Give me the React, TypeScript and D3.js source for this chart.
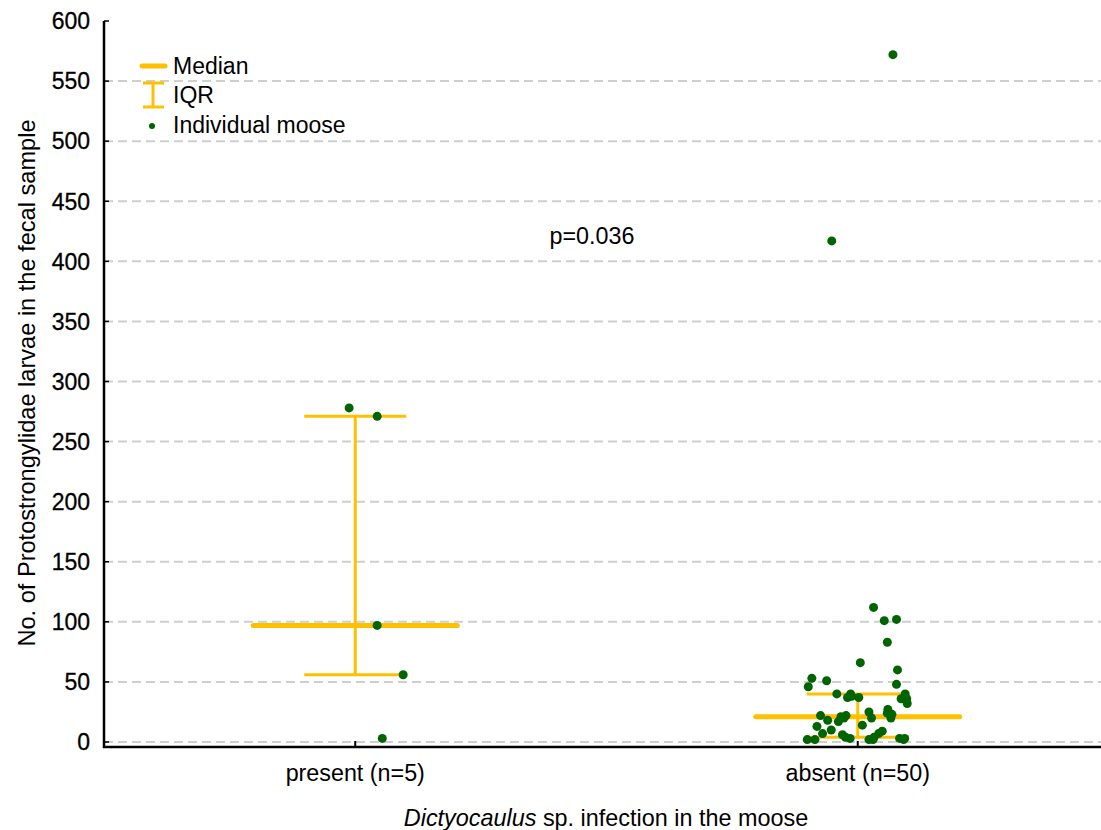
import React, { useRef, useEffect } from "react";
import * as d3 from "d3";

const W = 1101;
const H = 830;
const GOLD = "#ffc000";
const GREEN = "#006400";
const FONT = "'Liberation Sans', Arial, sans-serif";

const categories = ["present (n=5)", "absent (n=50)"];
const medians = [97, 21];
const q1 = [56, 4];
const q3 = [271, 40];
const yTicks = [0, 50, 100, 150, 200, 250, 300, 350, 400, 450, 500, 550, 600];

// individual moose: value + horizontal jitter (in cap half-widths)
const presentValues = [278, 271, 97, 56, 3];
const presentJitter = [-0.12, 0.43, 0.43, 0.94, 0.53];

const absentValues = [
  572, 417, 112, 101, 102, 83, 66, 60, 53, 51, 46, 48, 40, 40, 37, 37, 40, 36, 32,
  22, 25, 20, 27, 23, 20, 18, 17, 20, 22, 13, 10, 14, 7, 6, 9, 2, 2, 4, 3, 2, 4,
  7, 3, 3, 38, 2, 24, 2, 36, 21,
];
const absentJitter = [
  0.69, -0.51, 0.31, 0.52, 0.76, 0.58, 0.05, 0.78, -0.9, -0.61, -0.97, 0.76, -0.41,
  -0.14, -0.2, 0.02, 0.93, 0.96, 0.97, -0.73, 0.22, 0.27, 0.59, 0.67, 0.65, -0.59,
  -0.38, -0.27, -0.23, -0.8, -0.52, 0.09, -0.69, -0.3, 0.48, -0.99, -0.84, -0.24,
  -0.15, 0.22, 0.32, 0.41, 0.82, 0.92, -0.12, 0.3, 0.58, 0.9, 0.85, -0.33,
];

export default function App() {
  const svgRef = useRef<SVGSVGElement>(null);

  useEffect(() => {
    const svg = d3.select(svgRef.current);
    svg.selectAll("*").remove();

    const left = 104;
    const top = 21;
    const zeroY = 742;
    const axisY = 747;

    const x = d3.scaleBand().domain(categories).range([left, 1109]).padding(0);
    const cx = (c: string) => (x(c) as number) + x.bandwidth() / 2;
    const y = d3.scaleLinear().domain([0, 600]).range([zeroY, top]);
    const jit = d3.scaleLinear().domain([-1, 1]).range([-51, 51]);

    // grid
    svg
      .append("g")
      .selectAll("line")
      .data(yTicks.filter((t) => t < 600))
      .join("line")
      .attr("x1", left)
      .attr("x2", W)
      .attr("y1", (d) => y(d))
      .attr("y2", (d) => y(d))
      .attr("stroke", "#cfcfcf")
      .attr("stroke-width", 2)
      .attr("stroke-dasharray", "9,5");

    // y tick labels
    svg
      .append("g")
      .selectAll("text")
      .data(yTicks)
      .join("text")
      .attr("x", 90)
      .attr("y", (d) => y(d))
      .attr("dy", "0.36em")
      .attr("text-anchor", "end")
      .attr("font-size", 23)
      .attr("font-family", FONT)
      .attr("fill", "#000")
      .attr("stroke", "#000")
      .attr("stroke-width", 0.3)
      .text((d) => d);

    // y ticks (inward)
    svg
      .append("g")
      .selectAll("line")
      .data(yTicks)
      .join("line")
      .attr("x1", left)
      .attr("x2", left + 5)
      .attr("y1", (d) => y(d))
      .attr("y2", (d) => y(d))
      .attr("stroke", "#000")
      .attr("stroke-width", 1.5);

    // x ticks (inward)
    svg
      .append("g")
      .selectAll("line")
      .data(categories)
      .join("line")
      .attr("x1", (d) => cx(d))
      .attr("x2", (d) => cx(d))
      .attr("y1", axisY)
      .attr("y2", axisY - 6)
      .attr("stroke", "#000")
      .attr("stroke-width", 2);

    // axes
    svg
      .append("line")
      .attr("x1", left)
      .attr("x2", left)
      .attr("y1", top)
      .attr("y2", axisY + 1)
      .attr("stroke", "#000")
      .attr("stroke-width", 2.5);
    svg
      .append("line")
      .attr("x1", left - 1)
      .attr("x2", W)
      .attr("y1", axisY)
      .attr("y2", axisY)
      .attr("stroke", "#000")
      .attr("stroke-width", 2.5);

    // x tick labels
    svg
      .append("g")
      .selectAll("text")
      .data(categories)
      .join("text")
      .attr("x", (d) => cx(d))
      .attr("y", 781)
      .attr("text-anchor", "middle")
      .attr("font-size", 23.3)
      .attr("font-family", FONT)
      .text((d) => d);

    // IQR + median
    const stats = categories.map((c, i) => ({ c, med: medians[i], lo: q1[i], hi: q3[i] }));
    const g = svg.append("g");
    stats.forEach((s) => {
      const c = cx(s.c);
      g.append("line")
        .attr("x1", c)
        .attr("x2", c)
        .attr("y1", y(s.lo))
        .attr("y2", y(s.hi))
        .attr("stroke", GOLD)
        .attr("stroke-width", 3);
      [s.lo, s.hi].forEach((v) => {
        g.append("line")
          .attr("x1", c + jit(-1))
          .attr("x2", c + jit(1))
          .attr("y1", y(v))
          .attr("y2", y(v))
          .attr("stroke", GOLD)
          .attr("stroke-width", 3);
      });
      g.append("line")
        .attr("x1", c + jit(-2))
        .attr("x2", c + jit(2))
        .attr("y1", y(s.med))
        .attr("y2", y(s.med))
        .attr("stroke", GOLD)
        .attr("stroke-width", 5)
        .attr("stroke-linecap", "round");
    });

    // points
    const pts = [
      ...presentValues.map((v, i) => ({ c: categories[0], v, j: presentJitter[i] })),
      ...absentValues.map((v, i) => ({ c: categories[1], v, j: absentJitter[i] })),
    ];
    svg
      .append("g")
      .selectAll("circle")
      .data(pts)
      .join("circle")
      .attr("cx", (d) => cx(d.c) + jit(d.j))
      .attr("cy", (d) => y(d.v))
      .attr("r", 4.5)
      .attr("fill", GREEN);

    // p value
    svg
      .append("text")
      .attr("x", 592)
      .attr("y", 244)
      .attr("text-anchor", "middle")
      .attr("font-size", 23.3)
      .attr("font-family", FONT)
      .text("p=0.036");

    // legend
    const lg = svg.append("g").attr("font-family", FONT).attr("font-size", 23);
    lg.append("line")
      .attr("x1", 142)
      .attr("x2", 165)
      .attr("y1", 66)
      .attr("y2", 66)
      .attr("stroke", GOLD)
      .attr("stroke-width", 5)
      .attr("stroke-linecap", "round");
    lg.append("text").attr("x", 173).attr("y", 74).text("Median");
    lg.append("line")
      .attr("x1", 153)
      .attr("x2", 153)
      .attr("y1", 83)
      .attr("y2", 107)
      .attr("stroke", GOLD)
      .attr("stroke-width", 3);
    [83, 107].forEach((yy) =>
      lg
        .append("line")
        .attr("x1", 143)
        .attr("x2", 164)
        .attr("y1", yy)
        .attr("y2", yy)
        .attr("stroke", GOLD)
        .attr("stroke-width", 3),
    );
    lg.append("text").attr("x", 173).attr("y", 103).text("IQR");
    lg.append("circle").attr("cx", 152).attr("cy", 126).attr("r", 3).attr("fill", GREEN);
    lg.append("text").attr("x", 173).attr("y", 133).text("Individual moose");

    // axis titles
    svg
      .append("text")
      .attr("transform", "translate(35,383) rotate(-90)")
      .attr("text-anchor", "middle")
      .attr("font-size", 23.6)
      .attr("font-family", FONT)
      .text("No. of Protostrongylidae larvae in the fecal sample");

    const xt = svg
      .append("text")
      .attr("x", 606)
      .attr("y", 826)
      .attr("text-anchor", "middle")
      .attr("font-size", 23.4)
      .attr("font-family", FONT);
    xt.append("tspan").attr("font-style", "italic").text("Dictyocaulus");
    xt.append("tspan").text(" sp. infection in the moose");
  }, []);

  return (
    <svg
      ref={svgRef}
      width={W}
      height={H}
      style={{ position: "absolute", left: 0, top: 0, background: "#fff" }}
    />
  );
}
